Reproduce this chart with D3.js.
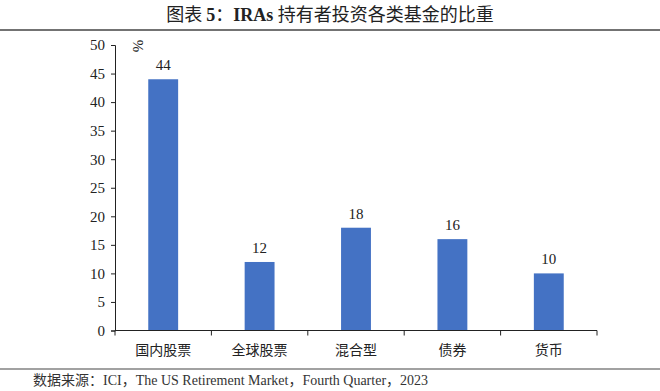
<!DOCTYPE html>
<html>
	<head>
		<meta charset="utf-8">
		<title>IRAs</title>
		<style>
			body { margin: 0; background: #fff; }
			svg { display: block; }
		</style>
	</head>
	<body>
		<svg></svg>
		<script src="https://d3js.org/d3.v7.min.js"></script>
		<script>
			// data
			var categories = ["国内股票", "全球股票", "混合型", "债券", "货币"]
			var values = [44, 12, 18, 16, 10]
			var yTicks = [0, 5, 10, 15, 20, 25, 30, 35, 40, 45, 50]
			var sourceText = "数据来源：ICI，The US Retirement Market，Fourth Quarter，2023"

			var _width = 660
			var _height = 391
			var _svg = d3.select("svg").attr("width", _width).attr("height", _height)

			var serif = "'Liberation Serif', 'Times New Roman', 'Noto Sans CJK SC', serif"
			var cjk = "'Noto Sans CJK SC', sans-serif"

			// title
			var title = _svg.append("text")
				.attr("x", _width / 2)
				.attr("y", 21)
				.attr("text-anchor", "middle")
				.style("font-size", "18px")
				.style("fill", "#222")
			title.append("tspan").style("font-family", cjk).text("图表 ")
			title.append("tspan").style("font-family", serif).style("font-weight", "bold").text("5")
			title.append("tspan").style("font-family", cjk).text("：")
			title.append("tspan").style("font-family", serif).style("font-weight", "bold").text("IRAs ")
			title.append("tspan").style("font-family", cjk).text("持有者投资各类基金的比重")

			_svg.append("line")
				.attr("x1", 0).attr("x2", _width)
				.attr("y1", 30).attr("y2", 30)
				.style("stroke", "#444").style("stroke-width", 1.5)

			// scales
			var x = d3.scaleBand().domain(categories).range([115, 597]).paddingInner(0.69).paddingOuter(0.345)
			var xEdge = d3.scaleBand().domain(categories).range([115, 597])
			var y = d3.scaleLinear().domain([0, 50]).range([330.5, 45])

			// y axis
			var yAxis = _svg.append("g")
				.attr("transform", "translate(115,0)")
				.call(d3.axisLeft(y).tickValues(yTicks).tickSize(4).tickPadding(6))
			yAxis.selectAll("path, line").style("stroke", "#222")
			yAxis.selectAll("text")
				.style("font-family", serif)
				.style("font-size", "15px")
				.style("fill", "#222")

			// % unit
			_svg.append("text")
				.attr("transform", "translate(133,46) rotate(90)")
				.attr("text-anchor", "middle")
				.style("font-family", serif)
				.style("font-size", "15px")
				.style("fill", "#222")
				.text("%")

			// bars
			_svg.selectAll("rect.bar")
				.data(values)
				.enter().append("rect")
				.attr("class", "bar")
				.attr("x", function(d, i) { return x(categories[i]) })
				.attr("width", x.bandwidth())
				.attr("y", function(d) { return y(d) })
				.attr("height", function(d) { return y(0) - y(d) })
				.style("fill", "#4472C4")

			// value labels
			_svg.selectAll("text.val")
				.data(values)
				.enter().append("text")
				.attr("class", "val")
				.attr("x", function(d, i) { return x(categories[i]) + x.bandwidth() / 2 })
				.attr("y", function(d) { return y(d) - 9 })
				.attr("text-anchor", "middle")
				.style("font-family", serif)
				.style("font-size", "15px")
				.style("fill", "#222")
				.text(function(d) { return d })

			// x axis
			_svg.append("line")
				.attr("x1", 115).attr("x2", 597)
				.attr("y1", y(0)).attr("y2", y(0))
				.style("stroke", "#222")
			var edges = categories.map(function(c) { return xEdge(c) }).concat([597])
			_svg.selectAll("line.xt")
				.data(edges)
				.enter().append("line")
				.attr("class", "xt")
				.attr("x1", function(d) { return d }).attr("x2", function(d) { return d })
				.attr("y1", y(0)).attr("y2", y(0) + 5)
				.style("stroke", "#222")
			_svg.selectAll("text.cat")
				.data(categories)
				.enter().append("text")
				.attr("class", "cat")
				.attr("x", function(d) { return x(d) + x.bandwidth() / 2 })
				.attr("y", 355)
				.attr("text-anchor", "middle")
				.style("font-family", cjk)
				.style("font-size", "14px")
				.style("fill", "#222")
				.text(function(d) { return d })

			// source
			_svg.append("line")
				.attr("x1", 0).attr("x2", _width)
				.attr("y1", 369).attr("y2", 369)
				.style("stroke", "#444").style("stroke-width", 1.2)
			_svg.append("text")
				.attr("x", 33)
				.attr("y", 385)
				.style("font-family", serif)
				.style("font-size", "14px")
				.style("fill", "#333")
				.text(sourceText)
		</script>
	</body>
</html>
